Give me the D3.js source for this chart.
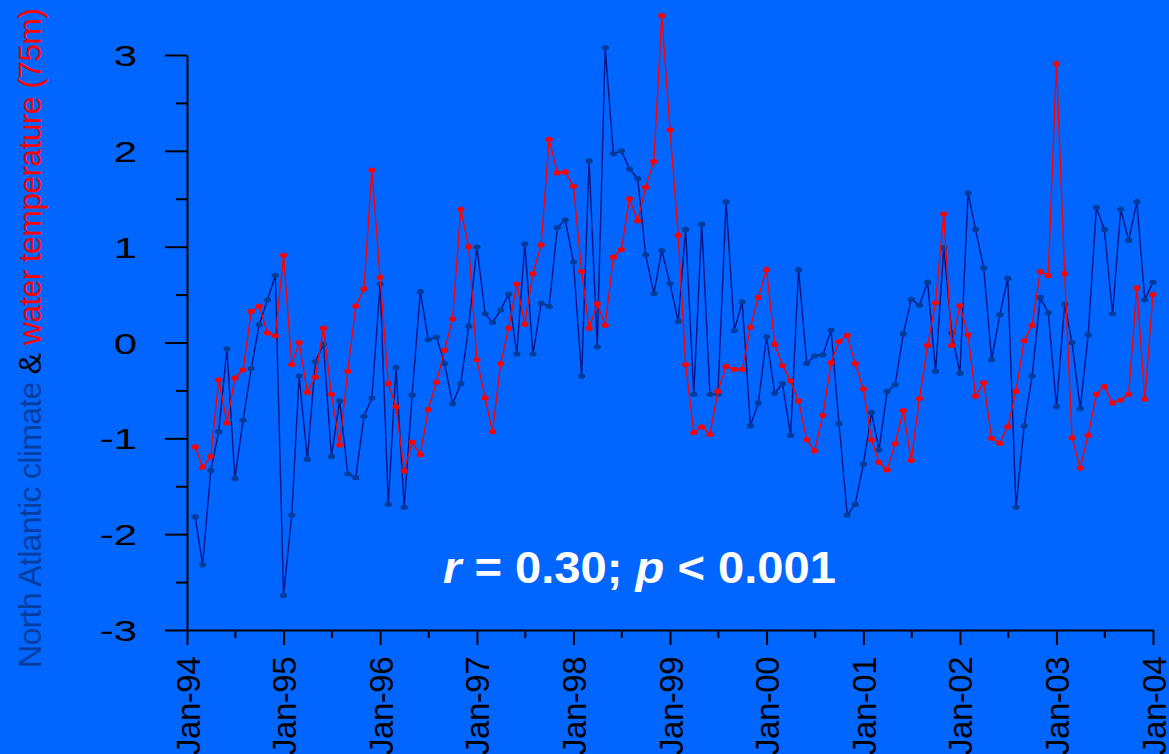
<!DOCTYPE html>
<html>
<head>
<meta charset="utf-8">
<script src="https://cdn.jsdelivr.net/npm/d3@7"></script>
<style>
  html, body { margin: 0; padding: 0; background: #0066ff; }
  svg { display: block; }
  text { font-family: "Liberation Sans", Arial, sans-serif; }
</style>
</head>
<body>
<svg id="chart" width="1169" height="754"></svg>
<script>
// Monthly anomalies, Feb-1994 .. Jan-2004
const startYear = 1994;
const climateIndex = [
  -1.82,-2.32,-1.335,-0.93,-0.066,-1.42,-0.81,-0.27,0.186,0.445,0.70,-2.64,-1.80,-0.35,-1.22,-0.20,-0.02,-1.19,-0.61,-1.37,
  -1.41,-0.77,-0.58,0.61,-1.69,-0.26,-1.72,-0.55,0.53,0.03,0.056,-0.22,-0.64,-0.43,0.17,0.996,0.30,0.21,0.34,0.505,
  -0.12,1.03,-0.12,0.41,0.376,1.20,1.28,0.84,-0.35,1.895,-0.045,3.075,1.97,2.00,1.81,1.71,0.915,0.51,0.96,0.615,
  0.22,1.18,-0.54,1.235,-0.54,-0.54,1.47,0.125,0.425,-0.87,-0.63,0.06,-0.53,-0.43,-0.97,0.76,-0.22,-0.14,-0.13,0.13,
  -0.845,-1.80,-1.69,-1.27,-0.73,-1.12,-0.51,-0.44,0.09,0.45,0.39,0.63,-0.30,0.99,0.10,-0.32,1.56,1.18,0.78,
  -0.18,0.29,0.67,-1.72,-0.87,-0.35,0.47,0.31,-0.67,0.40,0.0,-0.69,0.08,1.41,1.18,0.30,1.39,1.065,1.47,0.445,0.63
];
const waterTemp75m = [
  -1.09,-1.30,-1.19,-0.39,-0.84,-0.37,-0.285,0.324,0.38,0.10,0.07,0.91,-0.23,0.0,-0.52,-0.36,0.15,-0.54,-1.07,-0.30,
  0.38,0.56,1.80,0.68,-0.43,-0.67,-1.34,-1.04,-1.17,-0.70,-0.415,-0.08,0.245,1.39,1.00,-0.18,-0.58,-0.93,-0.22,0.15,
  0.61,0.19,0.72,1.02,2.12,1.77,1.78,1.63,0.74,0.15,0.405,0.18,0.89,0.97,1.50,1.27,1.62,1.89,3.41,2.22,
  1.12,-0.23,-0.94,-0.88,-0.96,-0.51,-0.25,-0.28,-0.28,0.16,0.47,0.76,-0.02,-0.24,-0.40,-0.61,-1.015,-1.13,-0.76,-0.21,
  0.01,0.075,-0.22,-0.485,-1.015,-1.25,-1.33,-1.055,-0.71,-1.23,-0.585,-0.03,0.415,1.34,-0.03,0.385,0.08,-0.56,-0.42,
  -1.0,-1.05,-0.88,-0.51,0.02,0.18,0.74,0.70,2.91,0.72,-0.995,-1.31,-0.97,-0.54,-0.46,-0.63,-0.60,-0.54,0.57,-0.59,0.50
];
const yTicks = [-3, -2, -1, 0, 1, 2, 3];
const yTickLabels = ["-3", "-2", "-1", "0", "1", "2", "3"];
const yMinorTicks = [-2.5, -1.5, -0.5, 0.5, 1.5, 2.5];
const xTickLabels = ["Jan-94","Jan-95","Jan-96","Jan-97","Jan-98","Jan-99","Jan-00","Jan-01","Jan-02","Jan-03","Jan-04"];
const yTitleParts = [
  { text: "North Atlantic climate ", color: "#063d9e" },
  { text: "& ", color: "#000000" },
  { text: "water temperature (75m)", color: "#ff0000" }
];

const svg = d3.select("#chart");
svg.append("rect").attr("width", 1169).attr("height", 754).attr("fill", "#0066ff");

const x = d3.scaleTime()
  .domain([new Date(startYear, 0, 1), new Date(startYear + 10, 0, 1)])
  .range([187, 1153]);
const y = d3.scaleLinear().domain([-3, 3]).range([630, 55]);

const months = climateIndex.map((_, i) => new Date(startYear, i + 1, 1));
const xTickDates = xTickLabels.map((_, i) => new Date(startYear + i, 0, 1));
const xMinorDates = xTickLabels.slice(1).map((_, i) => new Date(startYear + i, 6, 1));

// Axes
const yAxis = svg.append("g").attr("transform", "translate(187,0)")
  .call(d3.axisLeft(y).tickValues(yTicks).tickSize(22).tickSizeOuter(0).tickFormat((d, i) => yTickLabels[i]));
svg.append("g").attr("transform", "translate(187,0)")
  .call(d3.axisLeft(y).tickValues(yMinorTicks).tickSize(11).tickSizeOuter(0).tickFormat(""))
  .select(".domain").remove();

const xAxis = svg.append("g").attr("transform", "translate(0,630)")
  .call(d3.axisBottom(x).tickValues(xTickDates).tickSize(15).tickSizeOuter(0).tickFormat((d, i) => xTickLabels[i]));
svg.append("g").attr("transform", "translate(0,630)")
  .call(d3.axisBottom(x).tickValues(xMinorDates).tickSize(8).tickSizeOuter(0).tickFormat(""))
  .select(".domain").remove();

svg.selectAll(".domain, .tick line").attr("stroke", "#000").attr("stroke-width", 2);

yAxis.selectAll(".tick text")
  .attr("x", 0).attr("dy", null).attr("y", 0)
  .attr("transform", "translate(-50,10.5) scale(1.4,1)")
  .attr("text-anchor", "end")
  .attr("font-size", 30)
  .attr("fill", "#000");

xAxis.selectAll(".tick text")
  .attr("x", 0).attr("y", 0).attr("dy", null)
  .attr("transform", "translate(12,27) rotate(-90)")
  .attr("text-anchor", "end")
  .attr("font-size", 33)
  .attr("letter-spacing", -0.5)
  .attr("fill", "#000");

// Series
function drawSeries(values, lineColor, dotColor) {
  const pts = values.map((v, i) => [months[i], v]);
  svg.append("path")
    .datum(pts)
    .attr("fill", "none")
    .attr("stroke", lineColor)
    .attr("stroke-width", 1.4)
    .attr("d", d3.line().x(d => x(d[0])).y(d => y(d[1])));
  svg.append("g").selectAll("ellipse").data(pts).join("ellipse")
    .attr("cx", d => x(d[0])).attr("cy", d => y(d[1]))
    .attr("rx", 3.6).attr("ry", 2.6)
    .attr("fill", dotColor);
}
drawSeries(climateIndex, "#001585", "#003c9a");
drawSeries(waterTemp75m, "#ff0000", "#ff0000");

// Y-axis title in three colours
const title = svg.append("text")
  .attr("transform", "translate(41,668) rotate(-90)")
  .attr("font-size", 32)
  .attr("textLength", 660)
  .attr("lengthAdjust", "spacing")
  .style("white-space", "pre");
title.selectAll("tspan").data(yTitleParts).join("tspan")
  .attr("fill", d => d.color)
  .text(d => d.text);

// Correlation annotation
const stat = svg.append("text")
  .attr("x", 443).attr("y", 583)
  .attr("font-size", 45)
  .attr("font-weight", "bold")
  .attr("fill", "#fff")
  .attr("textLength", 393)
  .attr("lengthAdjust", "spacingAndGlyphs")
  .style("white-space", "pre");
stat.append("tspan").attr("font-style", "italic").text("r");
stat.append("tspan").text(" = 0.30; ");
stat.append("tspan").attr("font-style", "italic").text("p");
stat.append("tspan").text(" < 0.001");
</script>
</body>
</html>
